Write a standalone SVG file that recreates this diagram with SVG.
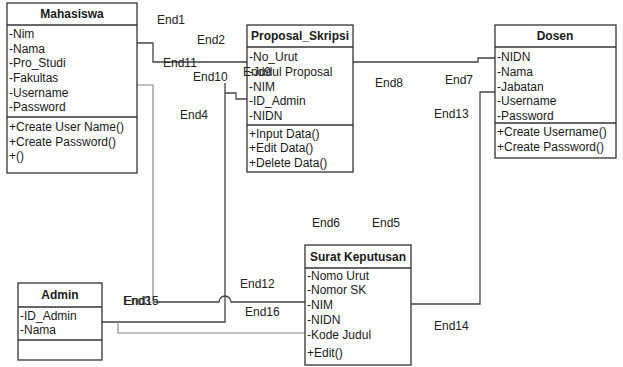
<svg xmlns="http://www.w3.org/2000/svg" width="623" height="367" viewBox="0 0 623 367">
<style>
.box{fill:#fff;stroke:#333;stroke-width:1.3}
.sep{stroke:#333;stroke-width:1.3}
.t{font-family:"Liberation Sans",Arial,sans-serif;font-size:12px;fill:#1a1a1a}
.h{font-family:"Liberation Sans",Arial,sans-serif;font-size:12px;font-weight:bold;fill:#1a1a1a}
.lbl{font-family:"Liberation Sans",Arial,sans-serif;font-size:12px;fill:#222}
.c{fill:none;stroke:#444;stroke-width:1.3}
.cl{fill:none;stroke:#888;stroke-width:1.2}
</style>
<rect width="623" height="367" fill="#fff"/>
<g id="connectors">
<polyline class="c" points="137,43 153,43 153,62 247,62"/>
<polyline class="c" points="353,62 478,62 478,58 495,58"/>
<polyline class="cl" points="137,85 153,85 153,302"/>
<path class="c" d="M153,302 H219 A6,6 0 0 1 231,302 H305"/>
<polyline class="c" points="247,99 236,99 236,93 225,93"/>
<polyline class="c" points="225,83 225,322 102,322"/>
<polyline class="cl" points="118,322 118,333 305,333"/>
<polyline class="c" points="411,304 480,304 480,92 495,92"/>
</g>
<g id="labels">
<text class="lbl" x="157" y="24">End1</text>
<text class="lbl" x="197" y="44">End2</text>
<text class="lbl" x="163" y="67">End11</text>
<text class="lbl" x="193" y="81">End10</text>
<text class="lbl" x="180" y="119">End4</text>
<text class="lbl" x="375" y="87">End8</text>
<text class="lbl" x="445" y="84">End7</text>
<text class="lbl" x="434" y="118">End13</text>
<text class="lbl" x="312" y="227">End6</text>
<text class="lbl" x="372" y="227">End5</text>
<text class="lbl" x="240" y="288">End12</text>
<text class="lbl" x="245" y="316">End16</text>
<text class="lbl" x="123" y="305">End3</text>
<text class="lbl" x="124" y="305">End15</text>
<text class="lbl" x="434" y="330">End14</text>
</g>
<g id="mahasiswa">
<rect class="box" x="7" y="3" width="130" height="170"/>
<line class="sep" x1="7" y1="25" x2="137" y2="25"/>
<line class="sep" x1="7" y1="117" x2="137" y2="117"/>
<text class="h" x="72" y="18" text-anchor="middle">Mahasiswa</text>
<text class="t" x="9" y="38">-Nim</text>
<text class="t" x="9" y="53">-Nama</text>
<text class="t" x="9" y="67">-Pro_Studi</text>
<text class="t" x="9" y="82">-Fakultas</text>
<text class="t" x="9" y="97">-Username</text>
<text class="t" x="9" y="111">-Password</text>
<text class="t" x="9" y="131">+Create User Name()</text>
<text class="t" x="9" y="146">+Create Password()</text>
<text class="t" x="9" y="160">+()</text>
</g>
<g id="proposal">
<rect class="box" x="247" y="25" width="106" height="147"/>
<line class="sep" x1="247" y1="47" x2="353" y2="47"/>
<line class="sep" x1="247" y1="125" x2="353" y2="125"/>
<text class="h" x="300" y="40" text-anchor="middle">Proposal_Skripsi</text>
<text class="t" x="249" y="61">-No_Urut</text>
<text class="t" x="249" y="76">-Judul Proposal</text>
<text class="lbl" x="243" y="76">End9</text>
<text class="t" x="249" y="91">-NIM</text>
<text class="t" x="249" y="105">-ID_Admin</text>
<text class="t" x="249" y="120">-NIDN</text>
<text class="t" x="249" y="138">+Input Data()</text>
<text class="t" x="249" y="152">+Edit Data()</text>
<text class="t" x="249" y="167">+Delete Data()</text>
</g>
<g id="dosen">
<rect class="box" x="495" y="25" width="121" height="133"/>
<line class="sep" x1="495" y1="47" x2="616" y2="47"/>
<line class="sep" x1="495" y1="123" x2="616" y2="123"/>
<text class="h" x="555" y="40" text-anchor="middle">Dosen</text>
<text class="t" x="497" y="61">-NIDN</text>
<text class="t" x="497" y="76">-Nama</text>
<text class="t" x="497" y="91">-Jabatan</text>
<text class="t" x="497" y="105">-Username</text>
<text class="t" x="497" y="120">-Password</text>
<text class="t" x="497" y="136">+Create Username()</text>
<text class="t" x="497" y="151">+Create Password()</text>
</g>
<g id="surat">
<rect class="box" x="305" y="245" width="106" height="120"/>
<line class="sep" x1="305" y1="268" x2="411" y2="268"/>
<text class="h" x="358" y="261" text-anchor="middle">Surat Keputusan</text>
<text class="t" x="307" y="280">-Nomo Urut</text>
<text class="t" x="307" y="294">-Nomor SK</text>
<text class="t" x="307" y="309">-NIM</text>
<text class="t" x="307" y="324">-NIDN</text>
<text class="t" x="307" y="339">-Kode  Judul</text>
<text class="t" x="307" y="357">+Edit()</text>
</g>
<g id="admin">
<rect class="box" x="18" y="283" width="84" height="77"/>
<line class="sep" x1="18" y1="307" x2="102" y2="307"/>
<line class="sep" x1="18" y1="340" x2="102" y2="340"/>
<text class="h" x="60" y="299" text-anchor="middle">Admin</text>
<text class="t" x="20" y="320">-ID_Admin</text>
<text class="t" x="20" y="334">-Nama</text>
</g>
</svg>
